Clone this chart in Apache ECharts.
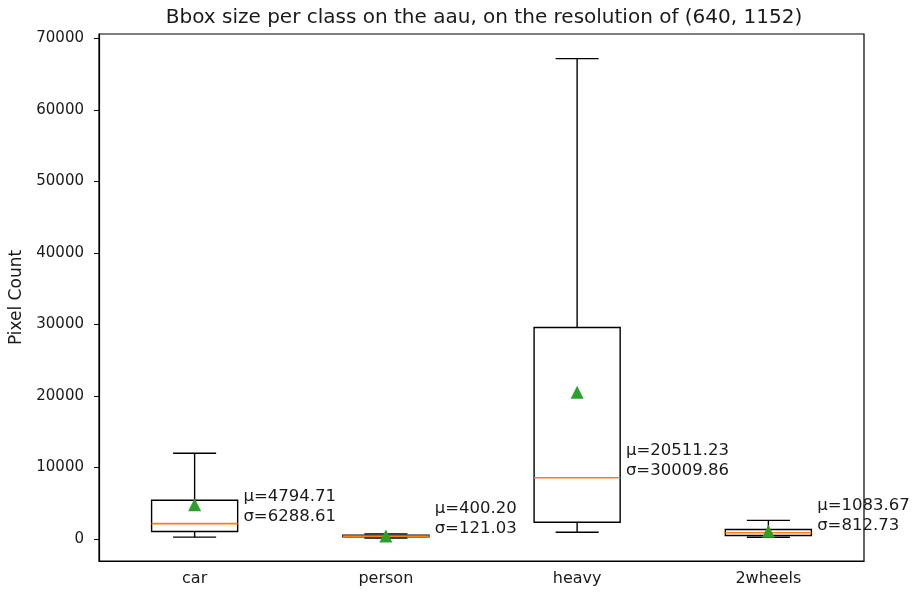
<!DOCTYPE html>
<html>
<head>
<meta charset="utf-8">
<script src="https://cdn.jsdelivr.net/npm/echarts@6/dist/echarts.min.js"></script>
<style>
  html, body { margin: 0; padding: 0; background: #fff; }
  #chart { width: 912px; height: 594px; }
</style>
</head>
<body>
<div id="chart"></div>
<script>
// Classes and their box statistics (pixel counts)
const categories = ['car', 'person', 'heavy', '2wheels'];
const whiskerLow  = [255, 120, 950, 250];
const q1Values    = [1050, 300, 2350, 480];
const medians     = [2150, 400, 8560, 880];
const q3Values    = [5420, 520, 29580, 1330];
const whiskerHigh = [12000, 720, 67200, 2600];
const means       = [4794.71, 400.20, 20511.23, 1083.67];
const stds        = [6288.61, 121.03, 30009.86, 812.73];
const yTicks      = [0, 10000, 20000, 30000, 40000, 50000, 60000, 70000];

const FONT = 'DejaVu Sans';
const TEXT = '#1a1a1a';

const boxData = categories.map((c, i) =>
  [i, whiskerLow[i], q1Values[i], medians[i], q3Values[i], whiskerHigh[i]]);
const meanData = categories.map((c, i) => [i, means[i]]);
const statData = categories.map((c, i) => [i, medians[i], means[i], stds[i]]);

// Box, whiskers, caps and median line for one class
function renderBox(params, api) {
  const idx = api.value(0);
  const lo = api.coord([idx, api.value(1)]);
  const q1 = api.coord([idx, api.value(2)]);
  const md = api.coord([idx, api.value(3)]);
  const q3 = api.coord([idx, api.value(4)]);
  const hi = api.coord([idx, api.value(5)]);
  const band = api.size([1, 0])[0];
  const bw = band * 0.45;
  const cw = bw / 2;
  const x = md[0];
  const black = { stroke: '#000', lineWidth: 1.4, fill: null };
  return {
    type: 'group',
    children: [
      { type: 'line', shape: { x1: x, y1: q3[1], x2: x, y2: hi[1] }, style: black },
      { type: 'line', shape: { x1: x, y1: q1[1], x2: x, y2: lo[1] }, style: black },
      { type: 'line', shape: { x1: x - cw / 2, y1: hi[1], x2: x + cw / 2, y2: hi[1] }, style: black },
      { type: 'line', shape: { x1: x - cw / 2, y1: lo[1], x2: x + cw / 2, y2: lo[1] }, style: black },
      { type: 'rect', shape: { x: x - bw / 2, y: q3[1], width: bw, height: q1[1] - q3[1] },
        style: { stroke: '#000', lineWidth: 1.4, fill: 'rgba(0,0,0,0)' } },
      { type: 'line', shape: { x1: x - bw / 2, y1: md[1], x2: x + bw / 2, y2: md[1] },
        style: { stroke: '#ff7f0e', lineWidth: 1.6 } }
    ]
  };
}

// Mean / standard deviation annotation placed beside each box at its median
function renderStat(params, api) {
  const idx = api.value(0);
  const p = api.coord([idx, api.value(1)]);
  const band = api.size([1, 0])[0];
  const mu = api.value(2).toFixed(2);
  const sd = api.value(3).toFixed(2);
  return {
    type: 'text',
    x: p[0] + band * 0.255,
    y: p[1] + 3,
    style: {
      text: '\u03bc=' + mu + '\n\u03c3=' + sd,
      font: '16.5px "' + FONT + '"',
      fill: TEXT,
      align: 'left',
      verticalAlign: 'bottom',
      lineHeight: 20
    }
  };
}

const chart = echarts.init(document.getElementById('chart'), null, { renderer: 'canvas' });
chart.setOption({
  animation: false,
  backgroundColor: '#fff',
  title: {
    text: 'Bbox size per class on the aau, on the resolution of (640, 1152)',
    left: 479, top: 3, textAlign: 'center',
    textStyle: { fontFamily: FONT, fontSize: 20, fontWeight: 'normal', color: TEXT }
  },
  grid: {
    left: 99, top: 34, right: 48, bottom: 33,
    outerBoundsMode: 'none',
    containLabel: false,
    show: true, borderColor: '#000', borderWidth: 1.2, backgroundColor: 'transparent'
  },
  xAxis: {
    type: 'category',
    data: categories,
    boundaryGap: true,
    axisLine: { onZero: false, lineStyle: { color: '#000', width: 1.2 } },
    axisTick: { alignWithLabel: true, length: 5, lineStyle: { color: '#000' } },
    axisLabel: { fontFamily: FONT, fontSize: 16, color: TEXT, margin: 10 },
    splitLine: { show: false }
  },
  yAxis: {
    type: 'value',
    min: -3080,
    max: 70640,
    name: 'Pixel Count',
    nameLocation: 'middle',
    nameGap: 74,
    nameTextStyle: { fontFamily: FONT, fontSize: 17, color: TEXT },
    axisLine: { show: true, lineStyle: { color: '#000', width: 1.2 } },
    axisTick: { show: true, length: 5, customValues: yTicks, lineStyle: { color: '#000' } },
    axisLabel: {
      customValues: yTicks, fontFamily: FONT, fontSize: 15, color: TEXT, margin: 15,
      formatter: v => String(v)
    },
    splitLine: { show: false }
  },
  series: [
    {
      type: 'custom',
      renderItem: renderBox,
      encode: { x: 0, y: [1, 2, 3, 4, 5] },
      data: boxData,
      z: 2
    },
    {
      type: 'scatter',
      data: meanData,
      symbol: 'triangle',
      symbolSize: 13,
      itemStyle: { color: '#2ca02c', opacity: 1 },
      z: 3
    },
    {
      type: 'custom',
      renderItem: renderStat,
      encode: { x: 0, y: 1 },
      data: statData,
      z: 4
    }
  ]
});
</script>
</body>
</html>
